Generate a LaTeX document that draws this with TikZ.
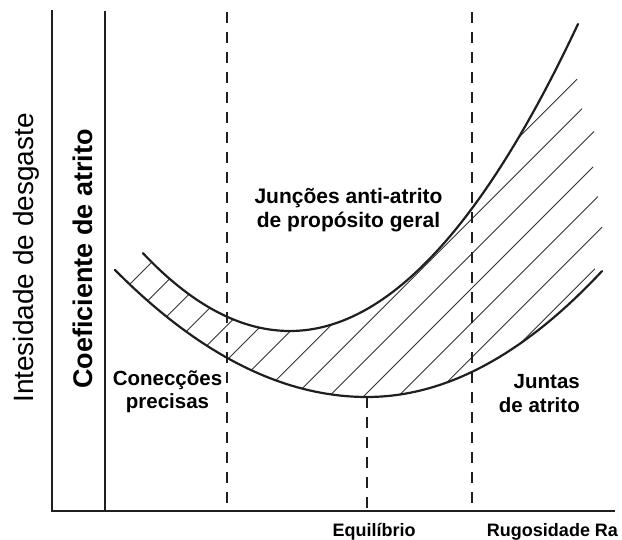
\documentclass[tikz,border=0pt]{standalone}
\usepackage{fontspec}
\setmainfont{Liberation Sans}
\begin{document}
\begin{tikzpicture}[x=1pt,y=-1pt,
  axisline/.style={line width=2.2pt,black!88,line join=miter},
  divider/.style={line width=1.9pt,black!88,dash pattern=on 11pt off 9pt},
  curveline/.style={line width=2.2pt,black!88,line cap=round},
  hatchline/.style={line width=0.9pt,black!80},
  biglbl/.style={inner sep=0pt,anchor=base,rotate=90},
  lbl/.style={inner sep=0pt,font=\bfseries\fontsize{20.5}{24}\selectfont},
  axlbl/.style={inner sep=0pt,anchor=base,font=\bfseries\fontsize{18}{20}\selectfont}]
\useasboundingbox (0,0) rectangle (622,540);
% axes
\coordinate (ytop) at (52,10);
\coordinate (origin) at (52,511);
\coordinate (xend) at (615,511);
\draw[axisline] (ytop) -- (origin) -- (xend);
\coordinate (ctop) at (105,11);
\coordinate (cbot) at (105,511);
\draw[axisline] (ctop) -- (cbot);
% hatching between the curves
\begin{scope}
\clip plot[domain=115:367,samples=40] (\x,{397-(0.04472*(\x-367))^2})
   -- plot[domain=367:602,samples=40] (\x,{397-(0.04775*(\x-367))^2})
   -- (650,273) -- (650,0) -- (578,0)
   -- plot[domain=578:290,samples=50] (\x,{331-(0.06083*(\x-290))^2})
   -- plot[domain=290:143,samples=30] (\x,{331-(0.06*(\x-290))^2}) -- cycle;
\foreach \k/\e in {0/450,1/450,2/450,3/450,4/450,5/450,6/450,7/577,8/582,9/594,10/593,11/598,12/602,13/595}{
  \pgfmathsetmacro{\c}{414+34.6*\k}
  \coordinate (hs\k) at (100,\c-100);
  \coordinate (he\k) at (\e,\c-\e);
  \draw[hatchline] (hs\k) -- (he\k);
}
\end{scope}
% curves
\draw[curveline] plot[domain=143:290,samples=40] (\x,{331-(0.06*(\x-290))^2})
   -- plot[domain=290:578,samples=60] (\x,{331-(0.06083*(\x-290))^2});
\draw[curveline] plot[domain=115:367,samples=40] (\x,{397-(0.04472*(\x-367))^2})
   -- plot[domain=367:602,samples=50] (\x,{397-(0.04775*(\x-367))^2});
% dashed dividers
\coordinate (d1top) at (227,12);
\coordinate (d1bot) at (227,511);
\coordinate (d2top) at (472,12);
\coordinate (d2bot) at (472,511);
\coordinate (eqtop) at (367,397);
\coordinate (eqbot) at (367,511);
\draw[divider] (d1top) -- (d1bot);
\draw[divider] (d2top) -- (d2bot);
\draw[divider] (eqtop) -- (eqbot);
% labels
\node[biglbl,font=\fontsize{28}{30}\selectfont] (intes) at (33,258) {Intesidade de desgaste};
\node[biglbl,font=\bfseries\fontsize{27}{30}\selectfont] (coef) at (92,259) {Coeficiente de atrito};
\node[lbl,anchor=base] (con1) at (167.5,385) {Conecções};
\node[lbl,anchor=base] (con2) at (167.5,408.5) {precisas};
\node[lbl,anchor=base,font=\bfseries\fontsize{21}{24}\selectfont] (jun1) at (348.5,203.5) {Junções anti-atrito};
\node[lbl,anchor=base,font=\bfseries\fontsize{21}{24}\selectfont] (jun2) at (348.5,227.5) {de propósito geral};
\node[lbl,anchor=base east] (jta1) at (580,389) {Juntas};
\node[lbl,anchor=base east] (jta2) at (580,412.5) {de atrito};
\node[axlbl] (equi) at (374,536) {Equilíbrio};
\node[axlbl] (rug) at (552.5,536) {Rugosidade Ra};
\end{tikzpicture}
\end{document}
